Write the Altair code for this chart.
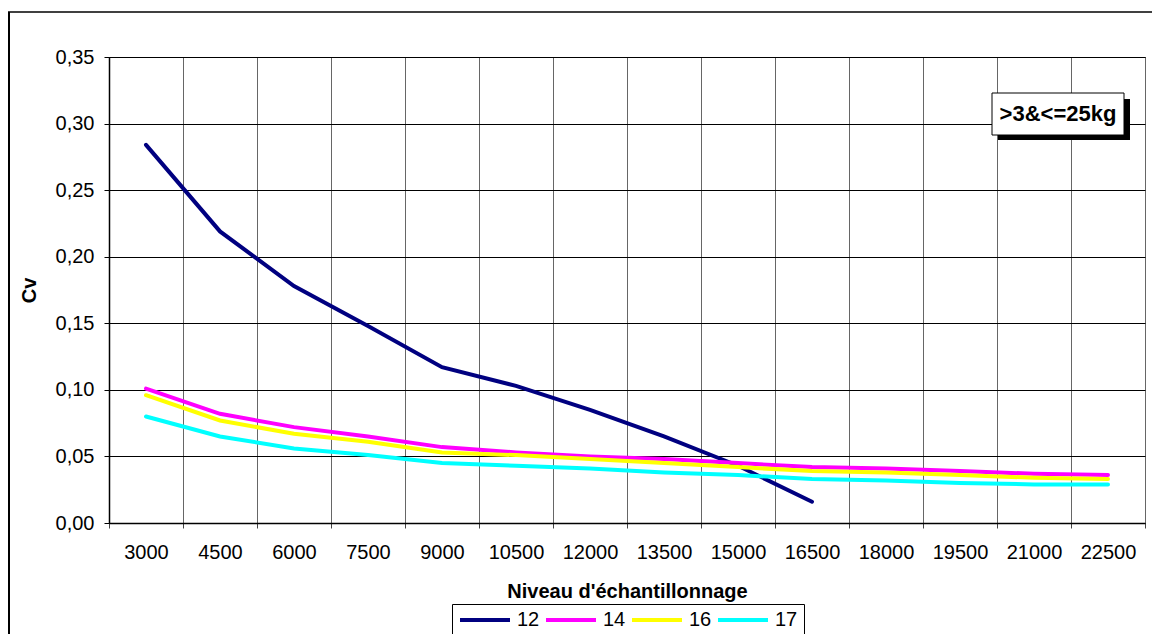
import altair as alt
import pandas as pd

levels = [3000, 4500, 6000, 7500, 9000, 10500, 12000, 13500, 15000, 16500, 18000, 19500, 21000, 22500]
series_names = ["12", "14", "16", "17"]
series_colors = ["#000080", "#FF00FF", "#FFFF00", "#00FFFF"]
cv12 = [0.284, 0.219, 0.178, 0.148, 0.117, 0.103, 0.085, 0.065, 0.043, 0.016]
cv14 = [0.101, 0.082, 0.072, 0.065, 0.057, 0.053, 0.050, 0.048, 0.045, 0.042, 0.041, 0.039, 0.037, 0.036]
cv16 = [0.096, 0.077, 0.067, 0.061, 0.053, 0.051, 0.048, 0.045, 0.042, 0.039, 0.038, 0.036, 0.034, 0.033]
cv17 = [0.080, 0.065, 0.056, 0.051, 0.045, 0.043, 0.041, 0.038, 0.036, 0.033, 0.032, 0.030, 0.029, 0.029]
y_ticks = [0.0, 0.05, 0.10, 0.15, 0.20, 0.25, 0.30, 0.35]
annotation = ">3&<=25kg"

rows = []
for name, vals in zip(series_names, [cv12, cv14, cv16, cv17]):
    for lev, v in zip(levels, vals):
        rows.append({"niveau": str(lev), "cv": v, "serie": name, "order": levels.index(lev)})
df = pd.DataFrame(rows)

FONT = "Liberation Sans"
FS = 20
W, H = 1036, 466

lines = alt.Chart(df).mark_line(strokeWidth=4, strokeCap="round").encode(
    x=alt.X(
        "niveau:O",
        sort=[str(l) for l in levels],
        scale=alt.Scale(type="band", paddingInner=0, paddingOuter=0),
        bandPosition=0.5,
        axis=alt.Axis(
            title="Niveau d'échantillonnage",
            tickBand="extent",
            grid=True,
            gridColor="#666666",
            gridWidth=1,
            labelAngle=0,
            labelFont=FONT,
            labelFontSize=FS,
            labelColor="black",
            labelPadding=14,
            tickSize=5,
            tickColor="#444444",
            domainColor="black",
            domainWidth=1.5,
            titleFont=FONT,
            titleFontSize=FS,
            titleFontWeight="bold",
            titleColor="black",
            titleBaseline="alphabetic",
            titleY=74,
            titleX=W / 2,
        ),
    ),
    y=alt.Y(
        "cv:Q",
        scale=alt.Scale(domain=[0, 0.35], nice=False, zero=True),
        axis=alt.Axis(
            title="Cv",
            values=y_ticks,
            labelExpr="replace(format(datum.value, '.2f'), '.', ',')",
            grid=True,
            gridColor="black",
            gridWidth=1,
            labelFont=FONT,
            labelFontSize=FS,
            labelColor="black",
            labelPadding=10,
            tickSize=5,
            tickColor="black",
            domainColor="black",
            domainWidth=1.5,
            titleFont=FONT,
            titleFontSize=FS,
            titleFontWeight="bold",
            titleColor="black",
            titleAngle=-90,
            titleBaseline="middle",
            titleX=-80,
            titleY=H / 2,
            titleAlign="center",
        ),
    ),
    color=alt.Color(
        "serie:N",
        scale=alt.Scale(domain=series_names, range=series_colors),
        legend=alt.Legend(
            title=None,
            orient="none",
            legendX=343,
            legendY=547,
            direction="horizontal",
            strokeColor="black",
            fillColor="white",
            padding=6,
            symbolType="stroke",
            symbolSize=2500,
            symbolStrokeWidth=4,
            clipHeight=20,
            labelFont=FONT,
            labelFontSize=FS,
            labelColor="black",
            labelOffset=5,
            columnPadding=4,
        ),
    ),
    order="order:Q",
)

deco = pd.DataFrame({"a": [0]})
shadow = alt.Chart(deco).mark_rect(color="black").encode(
    x=alt.value(889), x2=alt.value(1021), y=alt.value(42), y2=alt.value(83)
)
box = alt.Chart(deco).mark_rect(fill="white", stroke="black", strokeWidth=1).encode(
    x=alt.value(883), x2=alt.value(1015), y=alt.value(36), y2=alt.value(78)
)
label = alt.Chart(deco).mark_text(
    text=annotation, font=FONT, fontSize=22, fontWeight="bold", color="black",
    align="center", baseline="middle"
).encode(x=alt.value(949), y=alt.value(57))

frame_top = alt.Chart(deco).mark_rule(color="black", strokeWidth=1.5).encode(
    x=alt.value(-101), x2=alt.value(1043), y=alt.value(-45)
)
frame_left = alt.Chart(deco).mark_rule(color="black", strokeWidth=2).encode(
    x=alt.value(-100), y=alt.value(-45), y2=alt.value(600)
)

chart = alt.layer(lines, shadow, box, label, frame_top, frame_left).properties(
    width=W,
    height=H,
    padding={"left": 101, "top": 49, "right": 7, "bottom": 111},
    autosize=alt.AutoSizeParams(type="none"),
    background="white",
).configure_view(stroke="black", strokeWidth=1)

chart.save("out.html", embed_options={"renderer": "svg", "actions": False})
